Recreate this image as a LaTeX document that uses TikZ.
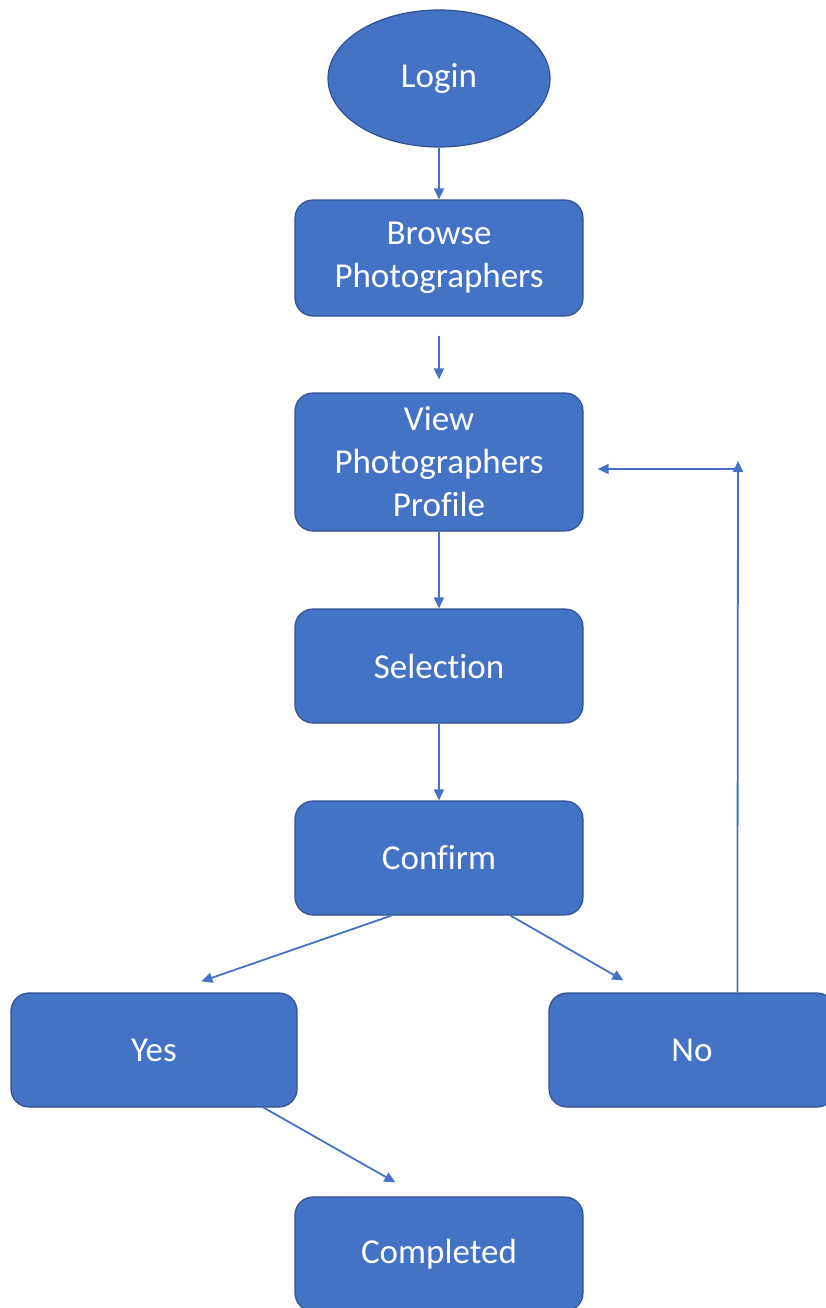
\documentclass[tikz,border=0pt]{standalone}
\usepackage{fontspec}
\setmainfont{Carlito}[Ligatures=NoCommon]
\usetikzlibrary{arrows.meta,shapes.geometric}
\definecolor{boxfill}{HTML}{4472C4}
\definecolor{boxline}{HTML}{2F528F}
\definecolor{arrowc}{HTML}{4472C4}
\tikzset{
  stepbox/.style={rectangle, rounded corners=18pt, fill=boxfill, draw=boxline, line width=1.2pt,
    minimum width=288pt, minimum height=114pt, text=white, align=center,
    font=\fontsize{35pt}{43pt}\selectfont, inner sep=0pt},
  startnode/.style={ellipse, fill=boxfill, draw=boxline, line width=1.2pt,
    minimum width=222pt, minimum height=137pt, text=white, inner sep=0pt,
    font=\fontsize{35pt}{43pt}\selectfont},
  conn/.style={draw=arrowc, line width=1.8pt, -{Triangle[length=11pt,width=10pt]}}
}
\begin{document}
\begin{tikzpicture}[x=1pt,y=1pt]
\useasboundingbox (0,0) rectangle (825,-1308);
\node[startnode] (login) at (439,-78.5) {Login};
\node[stepbox, minimum height=116pt] (browse) at (439,-258) {Browse\\Photographers};
\node[stepbox, minimum height=138pt] (view) at (439,-462) {View\\Photographers\\Profile};
\node[stepbox] (sel) at (439,-666) {Selection};
\node[stepbox] (conf) at (439,-858) {Confirm};
\node[stepbox, minimum width=286pt] (yes) at (154,-1050) {Yes};
\node[stepbox, minimum width=286pt] (no) at (692,-1050) {No};
\node[stepbox] (done) at (439,-1254) {Completed};
\coordinate (loopTop) at (738,-461);
\coordinate (loopCorner) at (738,-469);
\draw[conn] (login.south) -- (browse.north);
\draw[conn, shorten <=19pt, shorten >=13pt] (browse.south) -- (view.north);
\draw[conn] (view.south) -- (sel.north);
\draw[conn] (sel.south) -- (conf.north);
\draw[conn] ([xshift=97pt]conf.south west) -- ([xshift=191pt,yshift=11pt]yes.north west);
\draw[conn] ([xshift=-73pt]conf.south east) -- ([xshift=75pt,yshift=12pt]no.north west);
\draw[conn] ([xshift=-34pt]yes.south east) -- ([xshift=101pt,yshift=14pt]done.north west);
\draw[conn] ([xshift=189pt]no.north west) -- (loopTop);
\draw[conn, shorten >=14pt] (loopCorner) -- (view.east |- loopCorner);
\end{tikzpicture}
\end{document}
